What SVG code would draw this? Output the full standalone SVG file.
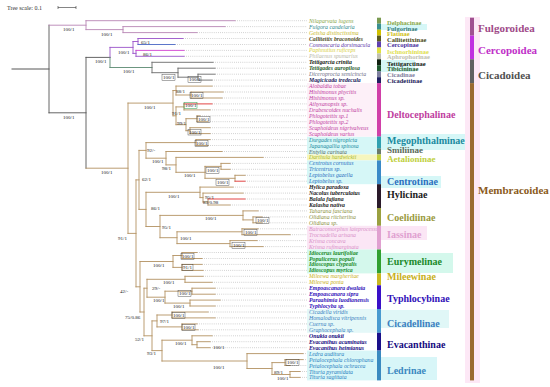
<svg xmlns="http://www.w3.org/2000/svg" width="550" height="387" viewBox="0 0 550 387">
<style>
.tx{font-family:"Liberation Serif",serif;font-size:5.8px;font-style:italic}
.b{font-weight:bold}
.sv{font-family:"Liberation Serif",serif;font-size:5px;fill:#1a1a1a}
.sbx{fill:none;stroke:#333;stroke-width:0.4}
.sf{font-family:"Liberation Serif",serif;font-size:6.5px;font-weight:bold}
.sfb{font-family:"Liberation Serif",serif;font-size:10px;font-weight:bold}
.sfs{font-family:"Liberation Serif",serif;font-size:9px;font-weight:bold}
.sup{font-family:"Liberation Serif",serif;font-size:11px;font-weight:bold}
.br{fill:none;stroke-width:0.9;stroke-linecap:square}
.dot{fill:none;stroke:#9a9a9a;stroke-width:0.55;stroke-dasharray:0.8 1.3}
</style>
<rect width="550" height="387" fill="#ffffff"/>
<g id="highlights">
<rect x="307" y="136.6" width="70" height="17.9" fill="#d6f7f7"/>
<rect x="307" y="154.5" width="70" height="5.9" fill="#f6f6be"/>
<rect x="307" y="160.4" width="70" height="23.8" fill="#d6f7f7"/>
<rect x="307" y="225.8" width="70" height="23.7" fill="#fbe6f5"/>
<rect x="307" y="249.5" width="70" height="23.9" fill="#d4f8ec"/>
<rect x="307" y="309" width="70" height="23.8" fill="#e4f8f8"/>
<rect x="307" y="350.6" width="70" height="29.8" fill="#d8f6f8"/>
<rect x="307" y="83.1" width="70" height="53.5" fill="#fdf0f8"/>
<rect x="377" y="24" width="50" height="6" fill="#d6f7f7"/>
<rect x="377" y="60" width="38" height="12" fill="#d6f7f7"/>
<rect x="377" y="134" width="101" height="16" fill="#d6f7f7"/>
<rect x="377" y="176" width="64" height="12" fill="#d6f7f7"/>
<rect x="377" y="253" width="76" height="20" fill="#d4f8ec"/>
<rect x="377" y="310" width="72" height="18" fill="#e0f7f7"/>
<rect x="377" y="357" width="60" height="23" fill="#d8f6f8"/>
<rect x="377" y="226" width="50" height="14" fill="#fbe6f5"/>
<rect x="465" y="17" width="15" height="366" fill="#fde8f6"/>
</g>
<g id="scale">
<text x="7" y="9.5" style="font-family:'Liberation Serif',serif;font-size:6px" fill="#333">Tree scale: 0.1</text>
<path d="M58,7.5 H76 M58,6 V9 M76,6 V9" stroke="#333" stroke-width="0.6" fill="none"/>
</g>
<g id="connectors">
<path class="dot" d="M235,20.7H307M225,26.6H307M197,32.6H307M183,38.5H307M175,44.5H307M184,50.4H307M184,56.3H307M213,62.3H307M215,68.2H307M215,74.2H307M212,80.1H307M212,86.1H307M223,92H307M222,98H307M212,103.9H307M210,109.9H307M200,115.8H307M208,121.7H307M210,127.7H307M210,133.6H307M210,139.6H307M208,145.5H307M222,151.5H307M263,157.4H307M230,163.4H307M230,169.3H307M245,175.3H307M245,181.2H307M233,187.1H307M243,193.1H307M245,199H307M230,205H307M258,210.9H307M262,216.9H307M262,222.8H307M258,228.8H307M290,234.7H307M257,240.6H307M263,246.6H307M197,252.5H307M202,258.5H307M202,264.4H307M203,270.4H307M203,276.3H307M212,282.3H307M215,288.2H307M215,294.2H307M220,300.1H307M215,306H307M208,312H307M215,317.9H307M197,323.9H307M198,329.8H307M212,335.8H307M210,341.7H307M210,347.7H307M303,353.6H307M303,359.6H307M290,365.5H307M300,371.5H307M300,377.4H307"/>
<path class="br" stroke="#444" stroke-width="1.6" d="M12,69H49"/>
<path class="br" stroke="#555" d="M49,25.2V112.8M49,112.8H86M86,57.4V168.2M86,57.4H110"/>
<path class="br" stroke="#b886b4" d="M49,25.2H86M86,20.7V29.6M86,20.7H235M86,29.6H123M123,26.6V32.6M123,26.6H225M123,32.6H197"/>
<path class="br" stroke="#9a52c8" d="M110,47.4V57.4M110,47.4H133M133,41.5V53.4M133,41.5H138M133,53.4H136M138,38.5V44.5M138,38.5H183M136,50.4V56.3M136,56.3H184"/>
<path class="br" stroke="#4a66c4" d="M138,44.5H175"/>
<path class="br" stroke="#d040d0" d="M136,50.4H184"/>
<path class="br" stroke="#5b8a72" d="M110,57.4V67.5M110,67.5H152"/>
<path class="br" stroke="#6a6a6a" d="M152,62.3V72.7M152,62.3H213M152,72.7H178M178,68.2V77.2M178,68.2H215M178,77.2H198M198,74.2V80.1M198,74.2H215M198,80.1H212"/>
<path class="br" stroke="#b39262" d="M86,168.2H128M128,103.1V233.4M128,103.1H173M128,233.4H136
M173,90.5V115.8M173,90.5H176M173,115.8H176M176,86.1V95M176,86.1H212M176,95H191M191,92V98M191,92H223M191,98H222
M176,106.9V124.7M176,106.9H184M176,124.7H186M184,103.9V109.9M184,109.9H210M186,118.7V130.7M186,118.7H197M186,130.7H190M197,115.8V121.7M197,115.8H200M197,121.7H208M190,127.7V133.6M190,127.7H210M190,133.6H210
M136,179.9V286.8M136,179.9H139M136,286.8H140M139,150.4V209.4M139,150.4H146M139,209.4H146
M146,142.6V158.2M146,142.6H196M146,158.2H166M196,139.6V145.5M196,139.6H210M196,145.5H208M166,151.5V164.9M166,151.5H222M166,164.9H176M176,157.4V172.3M176,157.4H263M176,172.3H205
M205,166.4V178.3M205,166.4H221M205,178.3H235M221,163.4V169.3M221,163.4H230M221,169.3H230M235,175.3V181.2M235,175.3H245
M146,192.3V226.5M146,192.3H200M146,226.5H160M200,187.1V197.6M200,187.1H233M200,197.6H203M203,193.1V202M203,193.1H243M203,202H208M208,199V205M208,205H230
M160,215.4V237.7M160,215.4H243M160,237.7H177M243,210.9V219.9M243,210.9H258M243,219.9H253M253,216.9V222.8M253,216.9H262M253,222.8H262
M177,231.8V243.6M177,231.8H242M177,243.6H230M242,228.8V234.7M242,228.8H258M242,234.7H290M230,240.6V246.6M230,240.6H257M230,246.6H263
M140,261.5V312M140,261.5H173M140,312H144M173,255.5V267.4M173,255.5H182M173,267.4H182M182,252.5V258.5M182,252.5H197M182,258.5H202M182,264.4V270.4M182,264.4H202M182,270.4H203
M144,288.2V335.8M144,288.2H147M144,335.8H152M147,279.3V297.2M147,279.3H185M147,297.2H165M185,276.3V282.3M185,276.3H203M185,282.3H212
M165,291.2V303.1M165,291.2H192M165,303.1H190M192,288.2V294.2M192,288.2H215M192,294.2H215M190,300.1V306M190,300.1H220M190,306H215
M152,320.9V350.6M152,320.9H157M152,350.6H162M157,315V326.9M157,315H172M157,326.9H182M172,312V317.9M172,312H208M172,317.9H215M182,323.9V329.8M182,323.9H197M182,329.8H198
M162,340.2V361M162,340.2H192M162,361H247M192,335.8V344.7M192,335.8H212M192,344.7H197M197,341.7V347.7M197,341.7H210M197,347.7H210
M247,353.6V368.5M247,353.6H303M247,368.5H272M272,362.6V374.5M272,362.6H285M272,374.5H290M285,359.6V365.5M285,359.6H303M285,365.5H290M290,371.5V377.4M290,371.5H300M290,377.4H300"/>
<path class="br" stroke="#e03030" d="M184,103.9H212M235,181.2H245M208,199H245"/>
</g>
<g id="support">
<text class="sv" x="63" y="31">100/1</text>
<text class="sv" x="101" y="36">100/1</text>
<text class="sv" x="63" y="119">100/1</text>
<text class="sv" x="95" y="63">100/1</text>
<text class="sv" x="118" y="53.5">100/1</text>
<text class="sv" x="141" y="44">65/1</text>
<text class="sv" x="143" y="55.5">86/1</text>
<text class="sv" x="123" y="73">100/1</text>
<text class="sv" x="163" y="78.8">100/1</text><rect class="sbx" x="162" y="74.5" width="13" height="5.8"/>
<text class="sv" x="189" y="81">100/1</text><rect class="sbx" x="188" y="76.7" width="13" height="5.8"/>
<text class="sv" x="144" y="109">100/1</text>
<text class="sv" x="176" y="92.5">88/1</text>
<text class="sv" x="191" y="97">100/1</text><rect class="sbx" x="190" y="92.7" width="13" height="5.8"/>
<text class="sv" x="185" y="107" fill="#d02020">100/1</text><rect x="184" y="102.7" width="13" height="5.8" fill="none" stroke="#2a9a4a" stroke-width="0.5"/>
<text class="sv" x="172" y="114.8">91/1</text>
<text class="sv" x="177" y="125">99/1</text>
<text class="sv" x="198" y="121">100/1</text><rect class="sbx" x="197" y="116.7" width="13" height="5.8"/>
<text class="sv" x="189" y="133.5">100/1</text><rect class="sbx" x="188" y="129.2" width="13" height="5.8"/>
<text class="sv" x="101" y="174">100/1</text>
<text class="sv" x="147" y="151.5">92/-</text>
<text class="sv" x="152" y="163">100/1</text>
<text class="sv" x="162" y="170">98/1</text>
<text class="sv" x="184" y="177">100/1</text>
<text class="sv" x="196" y="145">100/1</text><rect class="sbx" x="195" y="140.7" width="13" height="5.8"/>
<text class="sv" x="207" y="172">100/1</text><rect class="sbx" x="206" y="167.7" width="13" height="5.8"/>
<text class="sv" x="217" y="184">100/1</text><rect class="sbx" x="216" y="179.7" width="13" height="5.8"/>
<text class="sv" x="142" y="181">62/1</text>
<text class="sv" x="118" y="240">91/1</text>
<text class="sv" x="151" y="210">86/1</text>
<text class="sv" x="168" y="198">100/1</text>
<text class="sv" x="205" y="198.5">95/1</text>
<text class="sv" x="203" y="203.5">83/0.98</text>
<text class="sv" x="162" y="229">95/1</text>
<text class="sv" x="205" y="220">100/1</text>
<text class="sv" x="257" y="222">100/1</text><rect class="sbx" x="256" y="217.7" width="13" height="5.8"/>
<text class="sv" x="180" y="240">100/1</text>
<text class="sv" x="245" y="234">100/1</text><rect class="sbx" x="244" y="229.7" width="13" height="5.8"/>
<text class="sv" x="233" y="247">100/1</text><rect class="sbx" x="232" y="242.7" width="13" height="5.8"/>
<text class="sv" x="120" y="293">42/-</text>
<text class="sv" x="153" y="267">100/1</text>
<text class="sv" x="182" y="258">100/1</text><rect class="sbx" x="181" y="253.7" width="13" height="5.8"/>
<text class="sv" x="183" y="269">91/1</text><rect class="sbx" x="182" y="264.7" width="11" height="5.8"/>
<text class="sv" x="152" y="290">29/-</text>
<text class="sv" x="163" y="284">100/1</text>
<text class="sv" x="179" y="295">100/1</text><rect class="sbx" x="178" y="290.7" width="13" height="5.8"/>
<text class="sv" x="153" y="302">100/1</text>
<text class="sv" x="173" y="308">100/1</text>
<text class="sv" x="125" y="319">75/0.86</text>
<text class="sv" x="173" y="317">100/1</text><rect class="sbx" x="172" y="312.7" width="13" height="5.8"/>
<text class="sv" x="160" y="323">97/1</text>
<text class="sv" x="183" y="329">100/1</text><rect class="sbx" x="182" y="324.7" width="13" height="5.8"/>
<text class="sv" x="135" y="341">52/1</text>
<text class="sv" x="175" y="345">100/1</text>
<text class="sv" x="213" y="349">100/1</text>
<text class="sv" x="147" y="355">93/1</text>
<text class="sv" x="213" y="369">100/1</text>
<text class="sv" x="274" y="374">89/1</text>
<text class="sv" x="287" y="364">100/1</text><rect class="sbx" x="286" y="359.7" width="13" height="5.8"/>
<text class="sv" x="277" y="379.5">100/1</text>
</g>
<g id="taxa">
<g id="t1"><text class="tx" x="309" y="22.7" fill="#8aa84a">Nilaparvata lugens</text></g>
<g id="t2"><text class="tx" x="309" y="28.6" fill="#2f8a8a">Fulgora candelaria</text></g>
<g id="t3"><text class="tx" x="309" y="34.6" fill="#c8b828">Geisha distinctissima</text></g>
<g id="t4"><text class="tx b" x="309" y="40.5" fill="#4a4a1a">Callitettix braconoides</text></g>
<g id="t5"><text class="tx" x="309" y="46.5" fill="#5a38a8">Cosmoscarta dorsimacula</text></g>
<g id="t6"><text class="tx" x="309" y="52.4" fill="#d8d040">Paphnutius ruficeps</text></g>
<g id="t7"><text class="tx" x="309" y="58.3" fill="#b8b8a8">Philaenus spumarius</text></g>
<g id="t8"><text class="tx b" x="309" y="64.3" fill="#101810">Tettigarcta crinita</text></g>
<g id="t9"><text class="tx b" x="309" y="70.2" fill="#1e5a2a">Tettigades auropilosa</text></g>
<g id="t10"><text class="tx" x="309" y="76.2" fill="#707088">Diceroprocta semicincta</text></g>
<g id="t11"><text class="tx b" x="309" y="82.1" fill="#1a1a5a">Magicicada tredecula</text></g>
<g id="t12"><text class="tx" x="309" y="88.1" fill="#c040a0">Alobaldia tobae</text></g>
<g id="t13"><text class="tx" x="309" y="94" fill="#c040a0">Hishimonus phycitis</text></g>
<g id="t14"><text class="tx" x="309" y="100" fill="#c040a0">Hishimonus sp.</text></g>
<g id="t15"><text class="tx" x="309" y="105.9" fill="#c040a0">Athysanopsis sp.</text></g>
<g id="t16"><text class="tx" x="309" y="111.9" fill="#c040a0">Drabescoides nuchalis</text></g>
<g id="t17"><text class="tx" x="309" y="117.8" fill="#c040a0">Phlogotettix sp.1</text></g>
<g id="t18"><text class="tx" x="309" y="123.7" fill="#c040a0">Phlogotettix sp.2</text></g>
<g id="t19"><text class="tx" x="309" y="129.7" fill="#c040a0">Scaphoideus nigrivalveus</text></g>
<g id="t20"><text class="tx" x="309" y="135.6" fill="#c040a0">Scaphoideus varius</text></g>
<g id="t21"><text class="tx" x="309" y="141.6" fill="#1a8aa0">Durgades nigropicta</text></g>
<g id="t22"><text class="tx" x="309" y="147.5" fill="#1a8aa0">Japanagallia spinosa</text></g>
<g id="t23"><text class="tx" x="309" y="153.5" fill="#5a6a5a">Entylia carinata</text></g>
<g id="t24"><text class="tx" x="309" y="159.4" fill="#a8b830">Darthula hardwickii</text></g>
<g id="t25"><text class="tx" x="309" y="165.4" fill="#2a70c0">Centrotus cornutus</text></g>
<g id="t26"><text class="tx" x="309" y="171.3" fill="#2a70c0">Tricentrus sp.</text></g>
<g id="t27"><text class="tx" x="309" y="177.3" fill="#2a70c0">Leptobelus gazella</text></g>
<g id="t28"><text class="tx" x="309" y="183.2" fill="#2a70c0">Leptobelus sp.</text></g>
<g id="t29"><text class="tx b" x="309" y="189.1" fill="#1a1a1a">Hylica paradoxa</text></g>
<g id="t30"><text class="tx b" x="309" y="195.1" fill="#1a1a1a">Nacolus tuberculatus</text></g>
<g id="t31"><text class="tx b" x="309" y="201" fill="#1a1a1a">Balala fujiana</text></g>
<g id="t32"><text class="tx b" x="309" y="207" fill="#1a1a1a">Kalasha nativa</text></g>
<g id="t33"><text class="tx" x="309" y="212.9" fill="#8a9040">Taharana fasciana</text></g>
<g id="t34"><text class="tx" x="309" y="218.9" fill="#8a9040">Olidiana ritcheriina</text></g>
<g id="t35"><text class="tx" x="309" y="224.8" fill="#8a9040">Olidiana sp.</text></g>
<g id="t36"><text class="tx" x="309" y="230.8" fill="#d890c8">Batracomorphus lateprocessus</text></g>
<g id="t37"><text class="tx" x="309" y="236.7" fill="#d890c8">Trocnadella arisana</text></g>
<g id="t38"><text class="tx" x="309" y="242.6" fill="#d890c8">Krisna concava</text></g>
<g id="t39"><text class="tx" x="309" y="248.6" fill="#d890c8">Krisna rufimarginata</text></g>
<g id="t40"><text class="tx b" x="309" y="254.5" fill="#1a8a2a">Idiocerus laurifoliae</text></g>
<g id="t41"><text class="tx b" x="309" y="260.5" fill="#1a8a2a">Populicerus populi</text></g>
<g id="t42"><text class="tx b" x="309" y="266.4" fill="#1a8a2a">Idioscopus clypealis</text></g>
<g id="t43"><text class="tx b" x="309" y="272.4" fill="#1a8a2a">Idioscopus myrica</text></g>
<g id="t44"><text class="tx" x="309" y="278.3" fill="#c8b020">Mileewa margheritae</text></g>
<g id="t45"><text class="tx" x="309" y="284.3" fill="#c8b020">Mileewa ponta</text></g>
<g id="t46"><text class="tx b" x="309" y="290.2" fill="#3010b8">Empoascanara dwalata</text></g>
<g id="t47"><text class="tx b" x="309" y="296.2" fill="#3010b8">Empoascanara sipra</text></g>
<g id="t48"><text class="tx b" x="309" y="302.1" fill="#3010b8">Paraahimia luodianensis</text></g>
<g id="t49"><text class="tx b" x="309" y="308" fill="#3010b8">Typhlocyba sp.</text></g>
<g id="t50"><text class="tx" x="309" y="314" fill="#3a80c0">Cicadella viridis</text></g>
<g id="t51"><text class="tx" x="309" y="319.9" fill="#3a80c0">Homalodisca vitripennis</text></g>
<g id="t52"><text class="tx" x="309" y="325.9" fill="#3a80c0">Cuerna sp.</text></g>
<g id="t53"><text class="tx" x="309" y="331.8" fill="#3a80c0">Graphocephala sp.</text></g>
<g id="t54"><text class="tx b" x="309" y="337.8" fill="#140a80">Onukia onukii</text></g>
<g id="t55"><text class="tx b" x="309" y="343.7" fill="#140a80">Evacanthus acuminatus</text></g>
<g id="t56"><text class="tx b" x="309" y="349.7" fill="#140a80">Evacanthus heimianus</text></g>
<g id="t57"><text class="tx" x="309" y="355.6" fill="#2a80c0">Ledra auditura</text></g>
<g id="t58"><text class="tx" x="309" y="361.6" fill="#2a80c0">Petalocephala chlorophana</text></g>
<g id="t59"><text class="tx" x="309" y="367.5" fill="#2a80c0">Petalocephala ochracea</text></g>
<g id="t60"><text class="tx" x="309" y="373.5" fill="#2a80c0">Tituria pyramidata</text></g>
<g id="t61"><text class="tx" x="309" y="379.4" fill="#2a80c0">Tituria sagittata</text></g>
</g>
<g id="subfamilies">
<g id="s-delphacinae"><rect x="377" y="17.7" width="4" height="6" fill="#7a9a50"/><text class="sf" x="387" y="24.9" fill="#8aa84a">Delphacinae</text></g>
<g id="s-fulgorinae"><rect x="377" y="23.7" width="4" height="6" fill="#3a9090"/><text class="sf" x="387" y="30.5" fill="#2f7a7a">Fulgorinae</text></g>
<g id="s-flatinae"><rect x="377" y="29.6" width="4" height="6" fill="#d0c000"/><text class="sf" x="387" y="36" fill="#d0c020">Flatinae</text></g>
<g id="s-callitettixinae"><rect x="377" y="35.6" width="4" height="6" fill="#5a5a20"/><text class="sf" x="387" y="41.7" fill="#4a4a1a">Callitettixinae</text></g>
<g id="s-cercopinae"><rect x="377" y="41.5" width="4" height="6" fill="#6040b0"/><text class="sf" x="387" y="47.4" fill="#4a30a0">Cercopinae</text></g>
<g id="s-ischnorhininae"><rect x="377" y="47.5" width="4" height="6" fill="#e0e040"/><text class="sf" x="387" y="53.7" fill="#e0e050">Ischnorhininae</text></g>
<g id="s-aphrophorinae"><rect x="377" y="53.4" width="4" height="6" fill="#c0c0b0"/><text class="sf" x="387" y="59.2" fill="#c0c0b0">Aphrophorinae</text></g>
<g id="s-tettigarctinae"><rect x="377" y="59.3" width="4" height="6" fill="#102010"/><text class="sf" x="387" y="65.5" fill="#101810">Tettigarctinae</text></g>
<g id="s-tibicininae"><rect x="377" y="65.3" width="4" height="6" fill="#205a30"/><text class="sf" x="387" y="71.2" fill="#1e5a2a">Tibicininae</text></g>
<g id="s-cicadinae"><rect x="377" y="71.2" width="4" height="6" fill="#8080a0"/><text class="sf" x="387" y="77.2" fill="#8080a0">Cicadinae</text></g>
<g id="s-cicadettinae"><rect x="377" y="77.2" width="4" height="6" fill="#202060"/><text class="sf" x="387" y="83.2" fill="#1a1a5a">Cicadettinae</text></g>
<g id="s-deltocephalinae"><rect x="377" y="83.1" width="4" height="53.5" fill="#d040a8"/><text class="sfb" x="387" y="117.8" fill="#c040a0">Deltocephalinae</text></g>
<g id="s-megophthalminae"><rect x="377" y="136.6" width="4" height="11.9" fill="#30a0b0"/><text class="sfb" x="387" y="143.5" fill="#1a8aa0">Megophthalminae</text></g>
<g id="s-smiliinae"><rect x="377" y="148.5" width="4" height="6" fill="#6a7a6a"/><text class="sfs" x="387" y="153.4" fill="#5a6a5a">Smiliinae</text></g>
<g id="s-aetalioninae"><rect x="377" y="154.5" width="4" height="5.9" fill="#c0d040"/><text class="sfs" x="387" y="162" fill="#c0d040">Aetalioninae</text></g>
<g id="s-centrotinae"><rect x="377" y="160.4" width="4" height="23.8" fill="#3a8ac8"/><text class="sfb" x="387" y="185.2" fill="#2a70c0">Centrotinae</text></g>
<g id="s-hylicinae"><rect x="377" y="184.2" width="4" height="23.8" fill="#2a1a2a"/><text class="sfb" x="387" y="197.5" fill="#1a1a1a">Hylicinae</text></g>
<g id="s-coelidiinae"><rect x="377" y="208" width="4" height="17.8" fill="#9aa040"/><text class="sfb" x="387" y="220.8" fill="#9a9a40">Coelidiinae</text></g>
<g id="s-iassinae"><rect x="377" y="225.8" width="4" height="23.7" fill="#e0a0d0"/><text class="sfb" x="387" y="237.8" fill="#e0a0d0">Iassinae</text></g>
<g id="s-eurymelinae"><rect x="377" y="249.5" width="4" height="23.9" fill="#30a030"/><text class="sfb" x="387" y="264.5" fill="#1a8a2a">Eurymelinae</text></g>
<g id="s-mileewinae"><rect x="377" y="273.4" width="4" height="11.9" fill="#c8b820"/><text class="sfb" x="387" y="280.2" fill="#c8b020">Mileewinae</text></g>
<g id="s-typhlocybinae"><rect x="377" y="285.3" width="4" height="23.7" fill="#3a10c8"/><text class="sfb" x="387" y="301.8" fill="#3010b8">Typhlocybinae</text></g>
<g id="s-cicadellinae"><rect x="377" y="309" width="4" height="23.8" fill="#4a9ad0"/><text class="sfb" x="387" y="326.8" fill="#3a80c0">Cicadellinae</text></g>
<g id="s-evacanthinae"><rect x="377" y="332.8" width="4" height="17.8" fill="#1a108a"/><text class="sfb" x="387" y="347.5" fill="#140a80">Evacanthinae</text></g>
<g id="s-ledrinae"><rect x="377" y="350.6" width="4" height="29.8" fill="#3a8ac0"/><text class="sfb" x="387" y="373.5" fill="#3a88c0">Ledrinae</text></g>
</g>
<g id="superfamilies">
<g id="sf-fulgoroidea"><rect x="470" y="17.7" width="4" height="17.9" fill="#a05090"/><text class="sup" x="478" y="32" fill="#a04a88">Fulgoroidea</text></g>
<g id="sf-cercopoidea"><rect x="470" y="35.6" width="4" height="23.7" fill="#c030e0"/><text class="sup" x="478" y="54" fill="#c030c8">Cercopoidea</text></g>
<g id="sf-cicadoidea"><rect x="470" y="59.3" width="4" height="23.8" fill="#606060"/><text class="sup" x="478" y="79" fill="#505050">Cicadoidea</text></g>
<g id="sf-membracoidea"><rect x="470" y="83.1" width="4" height="297.3" fill="#9a6a30"/><text class="sup" x="478" y="194" fill="#8a5a20">Membracoidea</text></g>
</g>
</svg>
